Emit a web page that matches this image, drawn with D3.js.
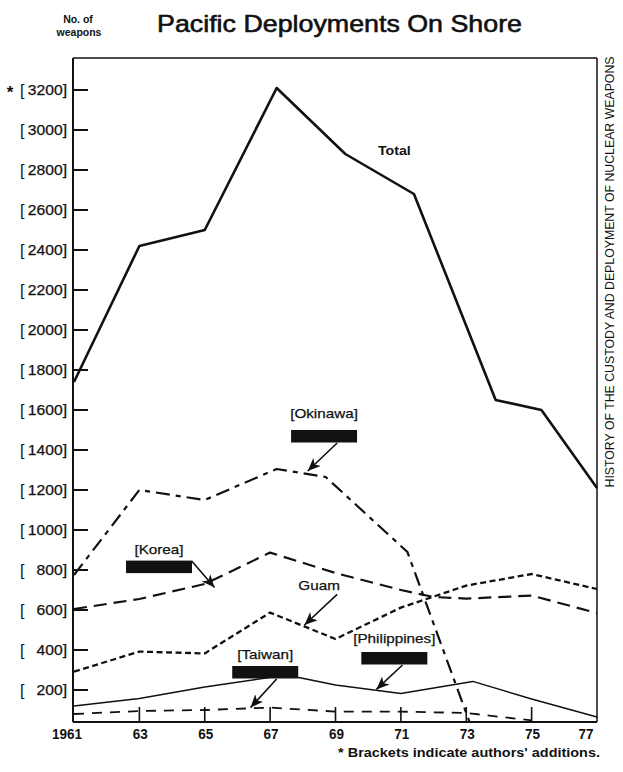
<!DOCTYPE html>
<html>
<head>
<meta charset="utf-8">
<script src="https://cdn.jsdelivr.net/npm/d3@7"></script>
<style>
  html, body { margin: 0; padding: 0; background: #fff; }
  svg { display: block; font-family: "Liberation Sans", Arial, Helvetica, sans-serif; }
</style>
</head>
<body>
<svg id="chart" width="623" height="772"></svg>
<script>
// Values (number of weapons on shore, by year)
var tickYears = [1961, 1963, 1965, 1967, 1969, 1971, 1973, 1975, 1977];
var tickValues = [200, 400, 600, 800, 1000, 1200, 1400, 1600, 1800, 2000, 2200, 2400, 2600, 2800, 3000, 3200];

var totalYears = [1961, 1963, 1965, 1967.2, 1969.3, 1971.4, 1973.9, 1975.3, 1977];
var totalValues = [1740, 2420, 2500, 3210, 2880, 2680, 1650, 1600, 1210];

var okinawaYears = [1961, 1963, 1965, 1967.2, 1968.7, 1971.2, 1973.1];
var okinawaValues = [775, 1200, 1150, 1305, 1265, 890, 40];

var koreaYears = [1961, 1963, 1965, 1967, 1969, 1971, 1972, 1973, 1975, 1977];
var koreaValues = [605, 655, 730, 887, 785, 700, 665, 657, 672, 585];

var guamYears = [1961, 1963, 1965, 1967, 1969, 1971, 1973, 1975, 1977];
var guamValues = [292, 392, 383, 587, 455, 612, 722, 780, 705];

var philippinesYears = [1961, 1963, 1965, 1967.5, 1969, 1971, 1973.2, 1975, 1977];
var philippinesValues = [120, 158, 215, 275, 225, 183, 243, 155, 65];

var taiwanYears = [1961, 1963, 1965, 1967, 1969, 1971, 1973, 1975];
var taiwanValues = [80, 95, 100, 112, 92, 92, 85, 48];

(function (d3) {
  'use strict';
  var svg = d3.select('#chart');
  var ink = '#111';

  var frame = { left: 73, right: 597, top: 58, bottom: 722 };
  var x = d3.scaleLinear().domain([1961, 1977]).range([74, 597]);
  var y = d3.scaleLinear().domain([0, 3200]).range([730, 90]);

  // stretch text horizontally, the scan is wider than a plain Helvetica
  var stretch = function (selection, k) {
    selection.each(function () {
      var w = this.getComputedTextLength();
      d3.select(this).attr('textLength', w * k).attr('lengthAdjust', 'spacingAndGlyphs');
    });
  };

  svg.append('rect').attr('width', 623).attr('height', 772).attr('fill', '#fff');

  /** Header */
  svg.append('text').attr('x', 157).attr('y', 32).attr('font-size', 24)
    .attr('fill', ink).attr('stroke', ink).attr('stroke-width', 0.6)
    .attr('textLength', 365).attr('lengthAdjust', 'spacingAndGlyphs')
    .text('Pacific Deployments On Shore');

  var unit = svg.append('g').attr('font-size', 10.5).attr('font-weight', 'bold')
    .attr('text-anchor', 'middle').attr('fill', ink);
  unit.append('text').attr('x', 78).attr('y', 23).text('No. of');
  unit.append('text').attr('x', 79).attr('y', 36).text('weapons');

  /** Frame */
  var frameLines = [
    [frame.left, frame.top, frame.left, frame.bottom, 2],
    [frame.left, frame.top, frame.right, frame.top, 1.5],
    [frame.right, frame.top, frame.right, frame.bottom, 1.5],
    [frame.left, frame.bottom, frame.right, frame.bottom, 2.2]
  ];
  svg.append('g').selectAll('line').data(frameLines).enter().append('line')
    .attr('x1', function (d) { return d[0]; }).attr('y1', function (d) { return d[1]; })
    .attr('x2', function (d) { return d[2]; }).attr('y2', function (d) { return d[3]; })
    .attr('stroke', ink).attr('stroke-width', function (d) { return d[4]; });

  /** Y axis: ticks inside the frame, bracketed labels */
  var yAxis = svg.append('g');
  yAxis.selectAll('line').data(tickValues).enter().append('line')
    .attr('x1', frame.left).attr('x2', frame.left + 15)
    .attr('y1', y).attr('y2', y)
    .attr('stroke', ink).attr('stroke-width', 2);
  yAxis.selectAll('text.open').data(tickValues).enter().append('text')
    .attr('class', 'open').attr('x', 20).attr('y', function (d) { return y(d) + 5.5; })
    .attr('font-size', 16).attr('fill', ink).text('[');
  var nums = yAxis.selectAll('text.num').data(tickValues).enter().append('text')
    .attr('class', 'num').attr('x', 67).attr('y', function (d) { return y(d) + 5; })
    .attr('text-anchor', 'end').attr('font-size', 14.5).attr('fill', ink)
    .attr('stroke', ink).attr('stroke-width', 0.25)
    .text(function (d) { return d + ']'; });
  stretch(nums, 1.08);
  svg.append('text').attr('x', 10).attr('y', y(3200) + 8).attr('text-anchor', 'middle')
    .attr('font-size', 17).attr('font-weight', 'bold').attr('fill', ink).text('*');

  /** X axis: ticks rising from the bottom edge */
  var xAxis = svg.append('g');
  xAxis.selectAll('line').data(tickYears.slice(1, -1)).enter().append('line')
    .attr('x1', x).attr('x2', x)
    .attr('y1', frame.bottom).attr('y2', frame.bottom - 15)
    .attr('stroke', ink).attr('stroke-width', 1.6);
  var xLabels = xAxis.selectAll('text').data(tickYears).enter().append('text')
    .attr('x', function (d) { return x(d) + (d === 1961 ? -7 : d === 1977 ? -11 : 1); })
    .attr('y', 739).attr('text-anchor', 'middle')
    .attr('font-size', 15).attr('font-weight', 'bold').attr('fill', ink)
    .text(function (d) { return d === 1961 ? '1961' : String(d).slice(2); });
  stretch(xLabels, 0.9);

  /** Series */
  var series = [
    { years: totalYears, values: totalValues, width: 2.6, dash: null },
    { years: okinawaYears, values: okinawaValues, width: 2.2, dash: '14,6,5,6' },
    { years: koreaYears, values: koreaValues, width: 2.2, dash: '13,7' },
    { years: guamYears, values: guamValues, width: 2.3, dash: '6,3.5' },
    { years: philippinesYears, values: philippinesValues, width: 1.5, dash: null },
    { years: taiwanYears, values: taiwanValues, width: 1.8, dash: '10,8' }
  ];
  var line = d3.line()
    .x(function (d) { return x(d[0]); })
    .y(function (d) { return y(d[1]); });
  svg.append('g').selectAll('path').data(series).enter().append('path')
    .attr('d', function (s) { return line(d3.zip(s.years, s.values)); })
    .attr('fill', 'none').attr('stroke', ink)
    .attr('stroke-width', function (s) { return s.width; })
    .attr('stroke-dasharray', function (s) { return s.dash; })
    .attr('stroke-linejoin', 'round');

  /** Callouts (label, black bar, arrow), placed in data units */
  var callouts = [
    { label: 'Total', at: [1970.8, 2875], bold: true },
    { label: '[Okinawa]', at: [1968.65, 1560], bar: [1968.65, 1470], from: [1969.05, 1435], to: [1968.15, 1295] },
    { label: '[Korea]', at: [1963.6, 880], bar: [1963.6, 817], from: [1964.6, 845], to: [1965.3, 712] },
    { label: 'Guam', at: [1968.5, 700], from: [1969.05, 678], to: [1968.05, 525] },
    { label: '[Taiwan]', at: [1966.85, 355], bar: [1966.85, 290], from: [1967.2, 255], to: [1966.4, 112] },
    { label: '[Philippines]', at: [1970.8, 435], bar: [1970.8, 360], from: [1971.05, 325], to: [1970.25, 203] }
  ];

  svg.append('defs').append('marker').attr('id', 'head')
    .attr('markerUnits', 'userSpaceOnUse').attr('markerWidth', 14).attr('markerHeight', 12)
    .attr('refX', 13).attr('refY', 5.5).attr('orient', 'auto')
    .append('path').attr('d', 'M0,0 L13,5.5 L0,11 L3.5,5.5 Z').attr('fill', ink);

  var notes = svg.append('g').attr('fill', ink);
  callouts.forEach(function (c) {
    var t = notes.append('text').attr('x', x(c.at[0])).attr('y', y(c.at[1]))
      .attr('text-anchor', 'middle').attr('font-size', 13.5)
      .attr('font-weight', c.bold ? 'bold' : 'normal')
      .attr('stroke', ink).attr('stroke-width', c.bold ? 0 : 0.25)
      .text(c.label);
    stretch(t, c.bold ? 1.05 : 1.13);
    if (c.bar) {
      notes.append('rect').attr('x', x(c.bar[0]) - 33).attr('y', y(c.bar[1]) - 6)
        .attr('width', 66).attr('height', 12.5);
    }
    if (c.to) {
      notes.append('line')
        .attr('x1', x(c.from[0])).attr('y1', y(c.from[1]))
        .attr('x2', x(c.to[0])).attr('y2', y(c.to[1]))
        .attr('stroke', ink).attr('stroke-width', 1.6).attr('marker-end', 'url(#head)');
    }
  });

  /** Side caption and footnote */
  svg.append('text').attr('transform', 'translate(614,272) rotate(-90)')
    .attr('text-anchor', 'middle').attr('font-size', 12).attr('fill', ink)
    .attr('textLength', 431).attr('lengthAdjust', 'spacingAndGlyphs')
    .text('HISTORY OF THE CUSTODY AND DEPLOYMENT OF NUCLEAR WEAPONS');

  var foot = svg.append('text').attr('x', 600).attr('y', 757).attr('text-anchor', 'end')
    .attr('font-size', 13.5).attr('font-weight', 'bold').attr('fill', ink)
    .text('* Brackets indicate authors\' additions.');
  stretch(foot, 1.07);
})(d3);
</script>
</body>
</html>
